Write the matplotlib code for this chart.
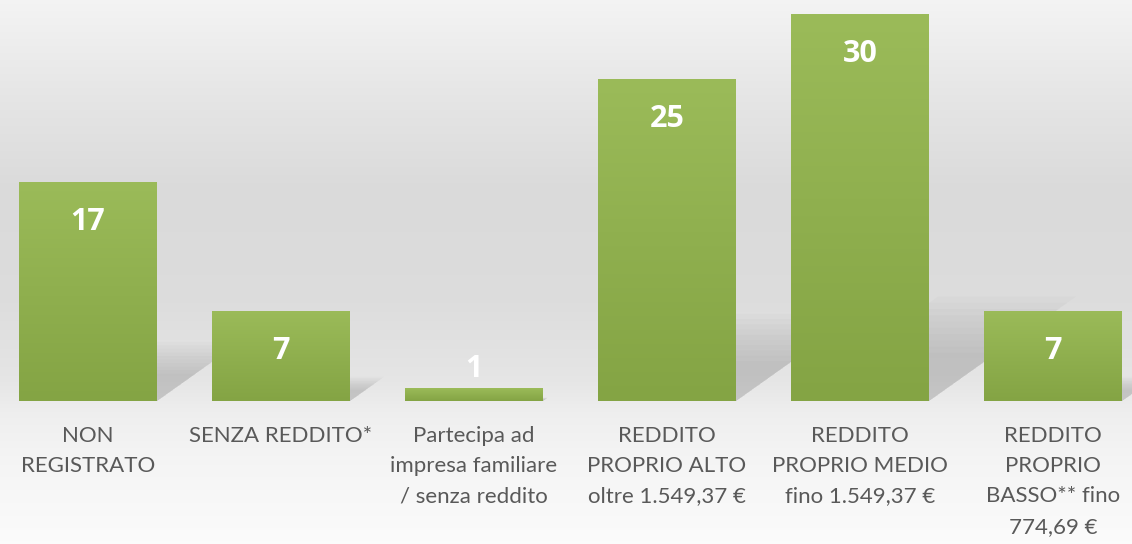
import numpy as np
import matplotlib
matplotlib.use("Agg")
import matplotlib.pyplot as plt
from matplotlib.patches import Polygon

categories = [
    "NON\nREGISTRATO",
    "SENZA REDDITO*",
    "Partecipa ad\nimpresa familiare\n/ senza reddito",
    "REDDITO\nPROPRIO ALTO\noltre 1.549,37 €",
    "REDDITO\nPROPRIO MEDIO\nfino 1.549,37 €",
    "REDDITO\nPROPRIO\nBASSO** fino\n774,69 €",
]
values = [17, 7, 1, 25, 30, 7]

W, H = 1132, 544
fig = plt.figure(figsize=(W / 100, H / 100), dpi=100)

# background gradient (light gray, darker in the middle)
bg = fig.add_axes([0, 0, 1, 1], zorder=0)
stops_y = [0.0, 0.18, 0.35, 0.55, 0.70, 0.76, 0.85, 1.0]
stops_v = [0.955, 0.90, 0.855, 0.865, 0.90, 0.935, 0.96, 0.985]
yy = np.linspace(0, 1, H)
col = np.interp(yy, stops_y, stops_v)
img = np.repeat(col[:, None], 4, axis=1)
bg.imshow(np.dstack([img] * 3), aspect="auto", extent=[0, 1, 0, 1])
bg.axis("off")

base_px = 401
px_per_unit = 12.9
ax = fig.add_axes([0, (H - base_px) / H, 1, base_px / H], zorder=1)
ax.patch.set_alpha(0)
x0 = (0 - 88) / 193
x1 = (W - 88) / 193
ax.set_xlim(x0, x1)
ax.set_ylim(0, base_px / px_per_unit)
ax.axis("off")

x = np.arange(len(values))
bars = ax.bar(x, values, width=0.715, color="none", zorder=3)

# soft cast shadows to the right of each bar
for b in bars:
    h = b.get_height()
    bx0, bx1 = b.get_x(), b.get_x() + b.get_width()
    dx = 0.38 * h * px_per_unit / 193
    dy = 0.27 * h
    for k in range(10):
        s = 1 - k * 0.06
        poly = Polygon([(bx0, 0), (bx1, 0), (bx1 + dx * s, dy * s), (bx0 + dx * s, dy * s)],
                       closed=True, facecolor="#7a7a7a", edgecolor="none",
                       alpha=0.035, zorder=2)
        ax.add_patch(poly)

# gradient fill for bars
grad = np.linspace(0, 1, 256)[:, None]
top = np.array([155, 187, 89]) / 255
bot = np.array([132, 164, 68]) / 255
gimg = top[None, None, :] * (1 - grad[:, :, None]) + bot[None, None, :] * grad[:, :, None]
for b in bars:
    ext = [b.get_x(), b.get_x() + b.get_width(), 0, b.get_height()]
    im = ax.imshow(gimg, aspect="auto", extent=ext, zorder=3, interpolation="bilinear")
    im.set_clip_path(b)
ax.set_xlim(x0, x1)
ax.set_ylim(0, base_px / px_per_unit)

for xi, v in zip(x, values):
    off = -29 if v >= 3 else 14
    ax.annotate(str(v), (xi, v), xytext=(0, off), textcoords="offset points",
                ha="center", va="center", color="white", fontsize=22,
                fontweight="bold", family="Open Sans", zorder=5)

for xi, lab in zip(x, categories):
    ax.annotate(lab, (xi, 0), xytext=(0, -18), textcoords="offset points",
                ha="center", va="top", color="#595959", fontsize=16,
                family="Lato", linespacing=1.64, annotation_clip=False)

fig.savefig("out.png", dpi=100)
